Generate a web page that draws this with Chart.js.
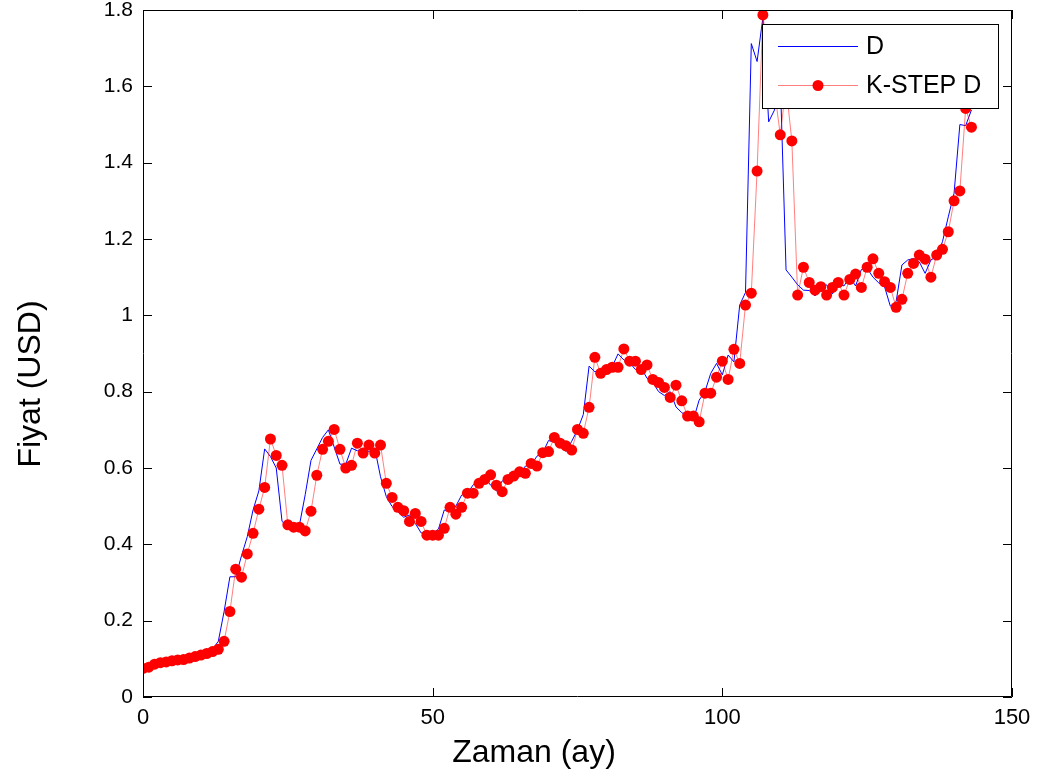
<!DOCTYPE html>
<html>
<head>
<meta charset="utf-8">
<script src="https://cdn.jsdelivr.net/npm/chart.js@4/dist/chart.umd.min.js"></script>
<style>
  html, body { margin: 0; padding: 0; background: #fff; }
  canvas { display: block; }
</style>
</head>
<body>
<canvas id="chart" width="1041" height="780"></canvas>
<script>
// Series values, one per month (index = month)
var seriesD = [
  0.078, 0.086, 0.090, 0.092, 0.095, 0.097, 0.098, 0.102, 0.106, 0.110,
  0.114, 0.119, 0.125, 0.146, 0.224, 0.315, 0.315, 0.370, 0.420, 0.490,
  0.540, 0.650, 0.630, 0.600, 0.460, 0.445, 0.445, 0.450, 0.530, 0.620,
  0.650, 0.680, 0.700, 0.655, 0.610, 0.610, 0.652, 0.645, 0.652, 0.643,
  0.652, 0.577, 0.525, 0.499, 0.485, 0.471, 0.477, 0.455, 0.430, 0.430,
  0.429, 0.440, 0.490, 0.486, 0.500, 0.529, 0.534, 0.556, 0.567, 0.575,
  0.555, 0.540, 0.566, 0.575, 0.588, 0.585, 0.605, 0.608, 0.631, 0.640,
  0.672, 0.668, 0.660, 0.643, 0.670, 0.700, 0.740, 0.867, 0.852, 0.858,
  0.862, 0.866, 0.899, 0.883, 0.876, 0.858, 0.862, 0.835, 0.824, 0.800,
  0.790, 0.800, 0.760, 0.745, 0.735, 0.726, 0.778, 0.800, 0.848, 0.874,
  0.844, 0.896, 0.878, 1.027, 1.060, 1.712, 1.665, 1.780, 1.507, 1.538,
  1.620, 1.119, 1.100, 1.080, 1.066, 1.065, 1.051, 1.065, 1.080, 1.056,
  1.084, 1.077, 1.100, 1.077, 1.120, 1.123, 1.100, 1.085, 1.075, 1.024,
  1.036, 1.132, 1.145, 1.149, 1.140, 1.110, 1.145, 1.154, 1.193, 1.258,
  1.320, 1.500, 1.497, 1.538
];

var seriesK = [
  0.075, 0.078, 0.086, 0.090, 0.092, 0.095, 0.097, 0.098, 0.102, 0.106,
  0.110, 0.114, 0.119, 0.125, 0.146, 0.224, 0.335, 0.314, 0.375, 0.429,
  0.492, 0.549, 0.676, 0.633, 0.607, 0.451, 0.445, 0.445, 0.435, 0.487,
  0.581, 0.649, 0.670, 0.701, 0.649, 0.600, 0.607, 0.665, 0.639, 0.660,
  0.639, 0.660, 0.560, 0.523, 0.497, 0.488, 0.460, 0.481, 0.460, 0.424,
  0.424, 0.424, 0.442, 0.497, 0.479, 0.497, 0.534, 0.534, 0.560, 0.570,
  0.582, 0.555, 0.538, 0.570, 0.579, 0.590, 0.586, 0.612, 0.605, 0.640,
  0.643, 0.680, 0.665, 0.658, 0.647, 0.701, 0.691, 0.759, 0.890, 0.848,
  0.858, 0.864, 0.864, 0.912, 0.880, 0.880, 0.858, 0.870, 0.832, 0.824,
  0.811, 0.785, 0.817, 0.776, 0.736, 0.736, 0.721, 0.796, 0.796, 0.838,
  0.880, 0.832, 0.911, 0.874, 1.027, 1.058, 1.378, 1.787, 1.660, 1.590,
  1.473, 1.600, 1.457, 1.053, 1.126, 1.086, 1.066, 1.075, 1.053, 1.073,
  1.086, 1.053, 1.094, 1.108, 1.073, 1.126, 1.148, 1.110, 1.088, 1.073,
  1.021, 1.042, 1.110, 1.136, 1.158, 1.147, 1.100, 1.158, 1.173, 1.219,
  1.300, 1.326, 1.542, 1.493
];

var seriesNames = ['D', 'K-STEP D'];
var xTicks = [0, 50, 100, 150];
var yTicks = [0, 0.2, 0.4, 0.6, 0.8, 1, 1.2, 1.4, 1.6, 1.8];
var xTitle = 'Zaman (ay)';
var yTitle = 'Fiyat (USD)';

function toPoints(arr) {
  var out = [];
  for (var i = 0; i < arr.length; i++) out.push({ x: i, y: arr[i] });
  return out;
}

var FONT = 'Arial, "Liberation Sans", Helvetica, sans-serif';

// MATLAB-style frame: box, inward ticks, axis titles and legend
var matlabFrame = {
  id: 'matlabFrame',
  afterDraw: function (chart) {
    var ctx = chart.ctx;
    var a = chart.chartArea;
    var xs = chart.scales.x, ys = chart.scales.y;
    var tl = 9;

    ctx.save();
    ctx.strokeStyle = '#000';
    ctx.lineWidth = 1;
    ctx.beginPath();
    ctx.rect(a.left + 0.5, a.top + 0.5, a.right - a.left - 1, a.bottom - a.top - 1);
    ctx.stroke();

    ctx.beginPath();
    xTicks.forEach(function (v) {
      var px = Math.round(xs.getPixelForValue(v)) + 0.5;
      ctx.moveTo(px, a.bottom); ctx.lineTo(px, a.bottom - tl);
      ctx.moveTo(px, a.top); ctx.lineTo(px, a.top + tl);
    });
    yTicks.forEach(function (v) {
      var py = Math.round(ys.getPixelForValue(v)) + 0.5;
      ctx.moveTo(a.left, py); ctx.lineTo(a.left + tl, py);
      ctx.moveTo(a.right, py); ctx.lineTo(a.right - tl, py);
    });
    ctx.stroke();

    // axis titles
    ctx.fillStyle = '#000';
    ctx.font = '32px ' + FONT;
    ctx.textAlign = 'center';
    ctx.textBaseline = 'middle';
    ctx.fillText(xTitle, 534, 753);
    ctx.translate(31, 384);
    ctx.rotate(-Math.PI / 2);
    ctx.fillText(yTitle, 0, 0);
    ctx.restore();

    // legend
    var lx = 762, ly = 24, lw = 236, lh = 84;
    ctx.save();
    ctx.fillStyle = '#fff';
    ctx.fillRect(lx, ly, lw, lh);
    ctx.strokeStyle = '#000';
    ctx.lineWidth = 1;
    ctx.strokeRect(lx + 0.5, ly + 0.5, lw, lh);

    var rows = [ly + 22, ly + 61];
    ctx.lineWidth = 1;
    ctx.strokeStyle = '#0000ff';
    ctx.beginPath();
    ctx.moveTo(778, rows[0] + 0.5); ctx.lineTo(858, rows[0] + 0.5);
    ctx.stroke();
    ctx.strokeStyle = 'rgba(255,0,0,0.5)';
    ctx.beginPath();
    ctx.moveTo(778, rows[1] + 0.5); ctx.lineTo(858, rows[1] + 0.5);
    ctx.stroke();
    ctx.fillStyle = '#ff0000';
    ctx.beginPath();
    ctx.arc(818, rows[1] + 0.5, 5.5, 0, Math.PI * 2);
    ctx.fill();

    ctx.fillStyle = '#000';
    ctx.font = '25px ' + FONT;
    ctx.textAlign = 'left';
    ctx.textBaseline = 'middle';
    ctx.fillText(seriesNames[0], 866, rows[0] + 1);
    ctx.fillText(seriesNames[1], 866, rows[1] + 1);
    ctx.restore();
  }
};

var config = {
  type: 'line',
  data: {
    datasets: [{
      label: seriesNames[0],
      data: toPoints(seriesD),
      borderColor: '#0000ff',
      borderWidth: 1,
      pointRadius: 0,
      tension: 0,
      order: 2
    }, {
      label: seriesNames[1],
      data: toPoints(seriesK),
      borderColor: 'rgba(255,0,0,0.5)',
      borderWidth: 1,
      pointRadius: 5.5,
      pointBackgroundColor: '#ff0000',
      pointBorderWidth: 0,
      tension: 0,
      order: 1
    }]
  },
  options: {
    responsive: false,
    animation: false,
    devicePixelRatio: 1,
    layout: { padding: { top: 10, right: 29, left: 0, bottom: 0 } },
    plugins: {
      legend: { display: false },
      tooltip: { enabled: false }
    },
    scales: {
      x: {
        type: 'linear',
        min: 0,
        max: 150,
        grid: { display: false, drawTicks: false },
        border: { display: false },
        afterBuildTicks: function (s) { s.ticks = xTicks.map(function (v) { return { value: v }; }); },
        afterFit: function (s) { s.height = 83; s.paddingLeft = 0; s.paddingRight = 0; },
        ticks: {
          color: '#000',
          padding: 8,
          maxRotation: 0,
          font: { family: FONT, size: 22 }
        }
      },
      y: {
        min: 0,
        max: 1.8,
        grid: { display: false, drawTicks: false },
        border: { display: false },
        afterBuildTicks: function (s) { s.ticks = yTicks.map(function (v) { return { value: v }; }); },
        afterFit: function (s) { s.width = 143; s.paddingTop = 0; s.paddingBottom = 0; },
        ticks: {
          color: '#000',
          padding: 10,
          font: { family: FONT, size: 21 },
          callback: function (v) { return String(Number(v.toFixed(1))); }
        }
      }
    }
  },
  plugins: [matlabFrame]
};

new Chart(document.getElementById('chart'), config);
</script>
</body>
</html>
